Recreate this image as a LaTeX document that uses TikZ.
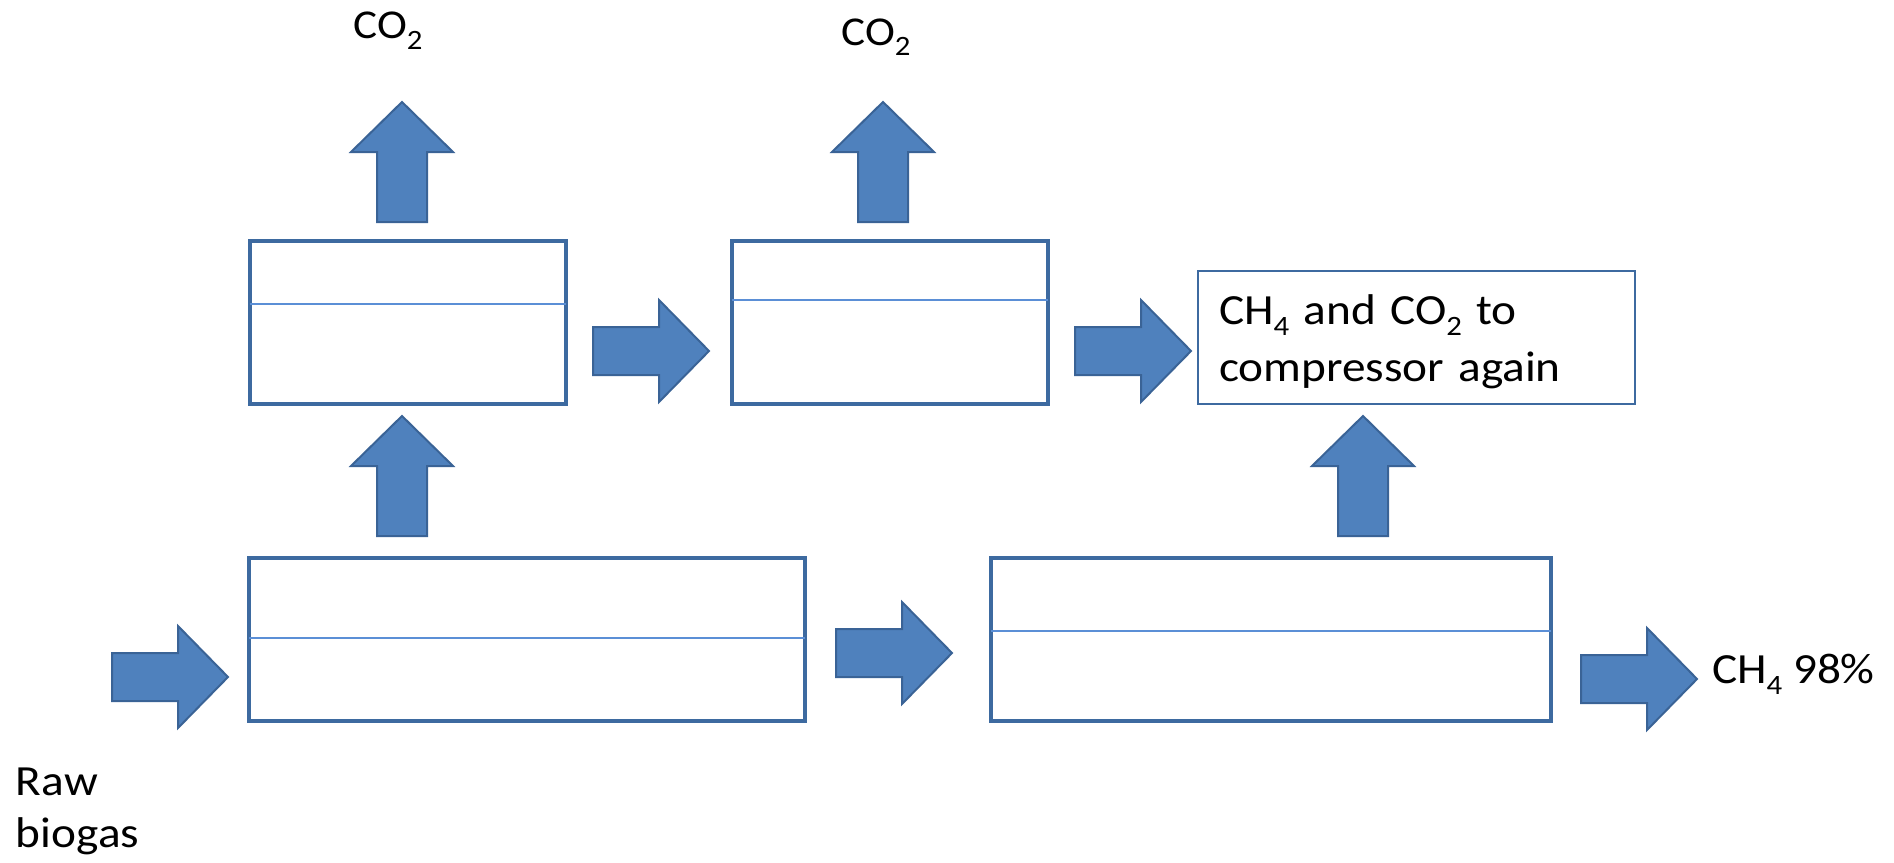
\documentclass[tikz,border=0pt]{standalone}
\usepackage{fontspec}
\setmainfont[FakeStretch=1.1]{Carlito}
\definecolor{arrfill}{HTML}{4F81BD}
\definecolor{arrdraw}{HTML}{3A6396}
\definecolor{boxdraw}{HTML}{3D6AA0}
\definecolor{divline}{HTML}{5B8FD6}
\newcommand{\chemsub}[1]{\raisebox{-5.5pt}{\fontsize{14pt}{14pt}\selectfont #1}}
\tikzset{
  blockarrow/.style={fill=arrfill, draw=arrdraw, line width=1pt, line join=miter},
  rarr/.pic={\path[blockarrow] (0,-24) -- (66,-24) -- (66,-51) -- (116,0) -- (66,51) -- (66,24) -- (0,24) -- cycle;},
  uarr/.pic={\path[blockarrow] (-25,0) -- (-25,-70) -- (-51,-70) -- (0,-120) -- (51,-70) -- (25,-70) -- (25,0) -- cycle;},
  vessel/.style={draw=boxdraw, line width=2pt, minimum width=#1, minimum height=81.5pt, inner sep=0pt, outer sep=0pt},
  divider/.style={draw=divline, line width=1pt},
  lbl/.style={font=\fontsize{21.5pt}{26pt}\selectfont, inner sep=0pt, outer sep=0pt},
  co2lbl/.style={font=\fontsize{20.5pt}{22pt}\selectfont, inner sep=0pt, outer sep=0pt, anchor=base}
}
\begin{document}
\begin{tikzpicture}[x=0.5pt,y=-0.5pt]
\useasboundingbox (0,0) rectangle (1894,862);
% vessels
\node[vessel=158pt] (A) at (407.6,322) {};
\node[vessel=158pt] (B) at (890,322) {};
\node[vessel=278pt] (D) at (527,639.5) {};
\node[vessel=280pt] (E) at (1271,639.5) {};
\node[draw=boxdraw, line width=1pt, minimum width=218.5pt, minimum height=66.5pt, inner sep=0pt, outer sep=0pt,
      text width=197.5pt, text height=15pt, text depth=28.5pt, align=left,
      font=\fontsize{21.5pt}{28.5pt}\selectfont] (C) at (1416.5,337.5)
      {CH\chemsub{4} and CO\chemsub{2} to\\compressor again};
% dividers
\draw[divider] (A.west |- 0,304) -- (A.east |- 0,304);
\draw[divider] (B.west |- 0,300) -- (B.east |- 0,300);
\draw[divider] (D.west |- 0,638) -- (D.east |- 0,638);
\draw[divider] (E.west |- 0,631) -- (E.east |- 0,631);
% block arrows
\coordinate (tAup) at (402,222);
\coordinate (tBup) at (883,222);
\coordinate (tDA) at (402,536);
\coordinate (tEC) at (1363,536);
\coordinate (tAB) at (593,351);
\coordinate (tBC) at (1075,351);
\coordinate (tin) at (112,677);
\coordinate (tDE) at (836,653);
\coordinate (tout) at (1581,679);
\pic at (tAup) {uarr};
\pic at (tBup) {uarr};
\pic at (tDA) {uarr};
\pic at (tEC) {uarr};
\pic at (tAB) {rarr};
\pic at (tBC) {rarr};
\pic at (tin) {rarr};
\pic at (tDE) {rarr};
\pic at (tout) {rarr};
% labels
\node[co2lbl] (co2a) at (388,39) {CO\chemsub{2}};
\node[co2lbl] (co2b) at (876,45) {CO\chemsub{2}};
\node[lbl, anchor=base west] (ch4) at (1712,683) {CH\chemsub{4} 98\%};
\node[lbl, anchor=base west, align=left] (raw) at (16,847) {Raw\\biogas};
\end{tikzpicture}
\end{document}
